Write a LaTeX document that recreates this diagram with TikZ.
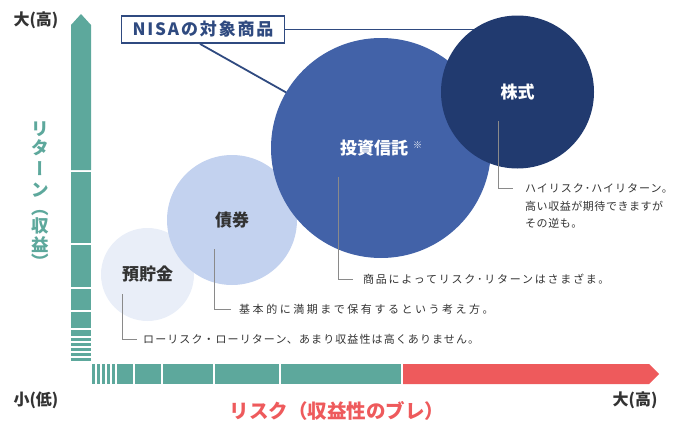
\documentclass[tikz,border=0pt]{standalone}
\usepackage{fontspec}
\setmainfont{Noto Sans CJK JP}
\newfontfamily\vertfont{Noto Sans CJK JP}[RawFeature=+vert]
\usetikzlibrary{calc}
\definecolor{tealbar}{HTML}{5DA89C}
\definecolor{redbar}{HTML}{EE5A5C}
\definecolor{cA}{HTML}{E9EEF8}
\definecolor{cB}{HTML}{C3D2EF}
\definecolor{cC}{HTML}{4262A8}
\definecolor{cD}{HTML}{213A6F}
\definecolor{nisac}{HTML}{2F4A80}
\definecolor{txt}{HTML}{333333}
\definecolor{leadc}{HTML}{8A8A8A}
\pgfdeclarelayer{bg}
\pgfsetlayers{bg,main}
\newcommand{\lsp}[2]{{\addfontfeatures{LetterSpace=#1}#2}}
\tikzset{
  bubble/.style={circle, inner sep=0pt, font=\bfseries\fontsize{17}{17}\selectfont},
  desc/.style={anchor=west, inner sep=0pt, text=txt, font=\fontsize{11}{11}\selectfont},
  axl/.style={inner sep=0pt, text=txt, font=\bfseries\fontsize{16}{16}\selectfont},
  vch/.style={inner sep=0pt, text=tealbar, font=\bfseries\fontsize{17.5}{17.5}\selectfont},
  leader/.style={draw=leadc, line width=0.9pt},
  nisaline/.style={draw=nisac, line width=1.8pt},
}
\begin{document}
\begin{tikzpicture}[x=1pt,y=-1pt]
\useasboundingbox (0,0) rectangle (680,442);
% vertical axis bar
\fill[tealbar] (71,170) -- (71,25) -- (81,14) -- (91,25) -- (91,170) -- cycle;
\foreach \a/\b in {172/243,245/287,289/310,312/328,330/336,338/341,343/346,348/351,353/356,358/361}
  \fill[tealbar] (71,\a) rectangle (91,\b);
% horizontal axis bar
\foreach \a/\b in {92/95,97/100,102/105,107/110,112/115,117/133,135/161,163/213,215/279,281/401}
  \fill[tealbar] (\a,364) rectangle (\b,384);
\fill[redbar] (403,364) -- (649,364) -- (659,374) -- (649,384) -- (403,384) -- cycle;
% axis labels
\node[axl] (yhigh) at (36,20) {大(高)};
\node[axl] (xlow) at (36,400) {小(低)};
\node[axl] (xhigh) at (635,400) {大(高)};
\node[inner sep=0pt, text=redbar, font=\bfseries\fontsize{19.5}{19.5}\selectfont] (risk) at (337,411) {リスク（収益性のブレ）};
% vertical label
\node[vch] (v1) at (40,129) {リ};
\node[vch] (v2) at (40,148) {タ};
\node[vch] (v3) at (40,169) {\vertfont ー};
\node[vch] (v4) at (40,190) {ン};
\node[vch] (v5) at (40,214.6) {\smash{\vertfont （}};
\node[vch] (v6) at (40,226) {収};
\node[vch] (v7) at (40,245) {益};
\node[vch] (v8) at (40,268.6) {\smash{\vertfont ）}};
% bubbles
\node[bubble, fill=cA, minimum size=93pt, text=txt] (yochokin) at (147.5,274.5) {預貯金};
\node[bubble, fill=cB, minimum size=130pt, text=txt] (saiken) at (232,220) {債券};
\node[bubble, fill=cC, minimum size=220pt, text=white] (toshin) at (381,148) {投資信託\hspace{5pt}\raisebox{0.35em}{\fontsize{9}{9}\selectfont ※}};
\node[bubble, fill=cD, minimum size=153pt, text=white] (kabu) at (517.5,92) {株式};
% NISA box
\node[draw=nisac, line width=1.8pt, fill=white, text=nisac, minimum width=163pt, minimum height=27pt, inner sep=0pt,
      font=\bfseries\fontsize{17}{17}\selectfont] (nisa) at (203,29.5) {\lsp{11}{NISAの対象商品}};
\begin{pgfonlayer}{bg}
  \draw[nisaline] (nisa.east) -- (nisa.east -| kabu.center);
  \coordinate (nisaend) at (296,98);
  \draw[nisaline] ([xshift=-3pt]nisa.south) -- (nisaend);
\end{pgfonlayer}
% descriptions
\node[desc] (t1) at (143,339) {\lsp{10}{ローリスク・ローリターン、あまり収益性は高くありません。}};
\node[desc] (t2) at (239,309) {\lsp{23}{基本的に満期まで保有するという考え方。}};
\node[desc] (t3) at (363,279) {\lsp{16}{商品によってリスク･リターンはさまざま。}};
\node[desc] (t4a) at (525,188) {\lsp{9}{ハイリスク･ハイリターン。}};
\node[desc] (t4b) at (525,206) {\lsp{5}{高い収益が期待できますが}};
\node[desc] (t4c) at (525,223) {\lsp{5}{その逆も。}};
% leaders
\coordinate (l1) at (122.5,294);
\coordinate (l2) at (214.5,249);
\coordinate (l3) at (338.5,177);
\coordinate (l4) at (498.5,121);
\draw[leader] (l1) |- ([xshift=-6pt]t1.west);
\draw[leader] (l2) |- ([xshift=-8pt]t2.west);
\draw[leader] (l3) |- ([xshift=-10pt]t3.west);
\draw[leader] (l4) |- ([xshift=-12pt]t4a.west);
\end{tikzpicture}
\end{document}
